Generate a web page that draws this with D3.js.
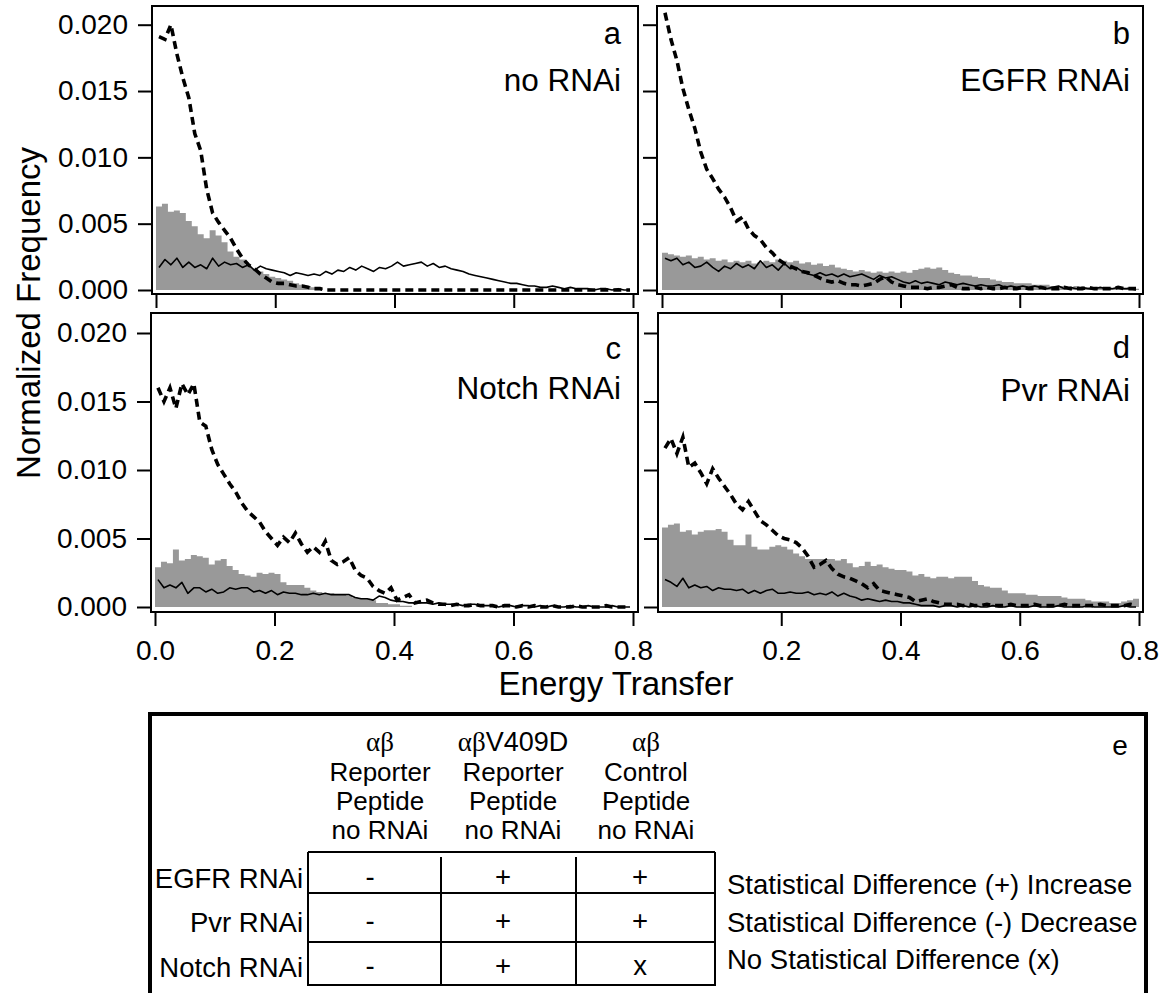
<!DOCTYPE html>
<html>
<head>
<meta charset="utf-8">
<script src="https://cdn.jsdelivr.net/npm/d3@7"></script>
<style>
body { margin: 0; background: #fff; }
svg text { font-family: "Liberation Sans", Arial, sans-serif; fill: #000; }
.greek { font-family: "Liberation Serif", "Times New Roman", serif; }
</style>
</head>
<body>
<div id="chart"></div>
<script>
// energy transfer bins (bin centres, width 0.01)
const energy = [
  0.005,0.015,0.025,0.035,0.045,0.055,0.065,0.075,0.085,0.095,
  0.105,0.115,0.125,0.135,0.145,0.155,0.165,0.175,0.185,0.195,
  0.205,0.215,0.225,0.235,0.245,0.255,0.265,0.275,0.285,0.295,
  0.305,0.315,0.325,0.335,0.345,0.355,0.365,0.375,0.385,0.395,
  0.405,0.415,0.425,0.435,0.445,0.455,0.465,0.475,0.485,0.495,
  0.505,0.515,0.525,0.535,0.545,0.555,0.565,0.575,0.585,0.595,
  0.605,0.615,0.625,0.635,0.645,0.655,0.665,0.675,0.685,0.695,
  0.705,0.715,0.725,0.735,0.745,0.755,0.765,0.775,0.785,0.795];

// a - no RNAi
const grayA = [
  0.0063,0.0065,0.0059,0.0060,0.0058,0.0052,0.0048,0.0042,0.0039,0.0045,
  0.0041,0.0036,0.0029,0.0025,0.0023,0.0018,0.0016,0.0014,0.0012,0.0010,
  0.0009,0.0008,0.0007,0.0005,0.0004,0.0003,0.0002,0.0001,0.0000,0.0000,
  0,0,0,0,0,0,0,0,0,0,
  0,0,0,0,0,0,0,0,0,0,
  0,0,0,0,0,0,0,0,0,0,
  0,0,0,0,0,0,0,0,0,0,
  0,0,0,0,0,0,0,0,0,0];
const solidA = [
  0.0017,0.0023,0.0019,0.0024,0.0017,0.0021,0.0017,0.0019,0.0016,0.0024,
  0.0018,0.0021,0.0019,0.0020,0.0017,0.0019,0.0015,0.0018,0.0016,0.0015,
  0.0014,0.0013,0.0011,0.0013,0.0012,0.0011,0.0012,0.0011,0.0014,0.0012,
  0.0015,0.0014,0.0017,0.0015,0.0018,0.0016,0.0014,0.0017,0.0016,0.0018,
  0.0021,0.0018,0.0019,0.0020,0.0021,0.0018,0.0020,0.0017,0.0018,0.0016,
  0.0015,0.0014,0.0012,0.0011,0.0010,0.0009,0.0008,0.0007,0.0006,0.0005,
  0.0005,0.0004,0.0003,0.0003,0.0002,0.0002,0.0003,0.0002,0.0001,0.0002,
  0.0001,0.0001,0.0001,0.0000,0.0001,0.0001,0.0000,0.0001,0.0000,0.0000];
const dashedA = [
  0.0191,0.0189,0.0200,0.0178,0.0160,0.0145,0.0118,0.0105,0.0076,0.0058,
  0.0051,0.0045,0.0039,0.0031,0.0024,0.0019,0.0016,0.0012,0.0009,0.0006,
  0.0005,0.0005,0.0004,0.0003,0.0003,0.0002,0.0001,0.0001,0.0000,0.0000,
  0,0,0,0,0,0,0,0,0,0,
  0,0,0,0,0,0,0,0,0,0,
  0,0,0,0,0,0,0,0,0,0,
  0,0,0,0,0,0,0,0,0,0,
  0,0,0,0,0,0,0,0,0,0];

// b - EGFR RNAi
const grayB = [
  0.0028,0.0027,0.0026,0.0025,0.0026,0.0024,0.0025,0.0023,0.0024,0.0022,
  0.0023,0.0021,0.0022,0.0021,0.0022,0.0020,0.0021,0.0022,0.0021,0.0023,
  0.0022,0.0021,0.0022,0.0020,0.0021,0.0019,0.0020,0.0018,0.0019,0.0017,
  0.0016,0.0015,0.0014,0.0015,0.0014,0.0013,0.0014,0.0013,0.0014,0.0013,
  0.0014,0.0013,0.0015,0.0016,0.0017,0.0016,0.0017,0.0015,0.0013,0.0012,
  0.0011,0.0011,0.0010,0.0009,0.0009,0.0008,0.0007,0.0006,0.0006,0.0005,
  0.0005,0.0005,0.0004,0.0004,0.0004,0.0003,0.0003,0.0003,0.0002,0.0003,
  0.0002,0.0002,0.0002,0.0002,0.0002,0.0001,0.0002,0.0001,0.0002,0.0001];
const solidB = [
  0.0024,0.0022,0.0024,0.0019,0.0021,0.0017,0.0018,0.0021,0.0017,0.0014,
  0.0018,0.0016,0.0020,0.0017,0.0019,0.0016,0.0022,0.0017,0.0019,0.0015,
  0.0020,0.0016,0.0017,0.0014,0.0012,0.0011,0.0013,0.0011,0.0012,0.0010,
  0.0012,0.0010,0.0011,0.0012,0.0010,0.0008,0.0011,0.0009,0.0010,0.0008,
  0.0006,0.0005,0.0007,0.0005,0.0006,0.0005,0.0004,0.0006,0.0005,0.0004,
  0.0005,0.0004,0.0003,0.0004,0.0003,0.0003,0.0004,0.0002,0.0003,0.0002,
  0.0003,0.0002,0.0003,0.0002,0.0001,0.0002,0.0003,0.0001,0.0002,0.0001,
  0.0002,0.0001,0.0001,0.0002,0.0001,0.0001,0.0002,0.0001,0.0001,0.0000];
const dashedB = [
  0.0209,0.0189,0.0173,0.0152,0.0136,0.0122,0.0104,0.0091,0.0084,0.0076,
  0.0070,0.0062,0.0052,0.0055,0.0046,0.0041,0.0038,0.0032,0.0028,0.0023,
  0.0020,0.0018,0.0016,0.0014,0.0013,0.0011,0.0009,0.0007,0.0006,0.0007,
  0.0005,0.0004,0.0004,0.0003,0.0004,0.0005,0.0008,0.0010,0.0006,0.0004,
  0.0003,0.0002,0.0002,0.0002,0.0001,0.0002,0.0002,0.0003,0.0004,0.0002,
  0.0001,0.0001,0.0002,0.0001,0.0002,0.0001,0.0001,0.0002,0.0001,0.0001,
  0.0002,0.0001,0.0001,0.0002,0.0001,0.0001,0.0001,0.0002,0.0001,0.0001,
  0.0001,0.0002,0.0001,0.0001,0.0001,0.0001,0.0002,0.0001,0.0001,0.0001];

// c - Notch RNAi
const grayC = [
  0.0029,0.0033,0.0032,0.0042,0.0034,0.0035,0.0038,0.0037,0.0036,0.0031,
  0.0034,0.0035,0.0030,0.0027,0.0024,0.0023,0.0022,0.0025,0.0024,0.0025,
  0.0024,0.0018,0.0016,0.0016,0.0016,0.0014,0.0012,0.0011,0.0010,0.0010,
  0.0009,0.0009,0.0008,0.0007,0.0006,0.0006,0.0005,0.0003,0.0003,0.0002,
  0.0002,0.0001,0.0001,0,0,0,0,0,0,0,
  0,0,0,0,0,0,0,0,0,0,
  0,0,0,0,0,0,0,0,0,0,
  0,0,0,0,0,0,0,0,0,0];
const solidC = [
  0.0020,0.0014,0.0016,0.0014,0.0018,0.0010,0.0014,0.0014,0.0011,0.0013,
  0.0010,0.0011,0.0014,0.0013,0.0014,0.0014,0.0011,0.0012,0.0010,0.0012,
  0.0009,0.0011,0.0010,0.0010,0.0009,0.0009,0.0010,0.0009,0.0010,0.0009,
  0.0009,0.0009,0.0009,0.0007,0.0006,0.0006,0.0005,0.0008,0.0007,0.0005,
  0.0004,0.0004,0.0003,0.0003,0.0003,0.0003,0.0002,0.0003,0.0002,0.0002,
  0.0002,0.0001,0.0002,0.0002,0.0001,0.0001,0.0001,0.0000,0.0001,0.0001,
  0.0000,0.0001,0.0001,0.0000,0.0001,0.0000,0.0001,0.0000,0.0000,0.0001,
  0.0000,0.0000,0.0001,0.0000,0.0000,0.0000,0.0001,0.0000,0.0000,0.0000];
const dashedC = [
  0.0160,0.0150,0.0160,0.0145,0.0163,0.0155,0.0163,0.0135,0.0132,0.0115,
  0.0104,0.0097,0.0090,0.0084,0.0076,0.0070,0.0066,0.0062,0.0055,0.0050,
  0.0045,0.0051,0.0047,0.0054,0.0046,0.0040,0.0044,0.0040,0.0048,0.0034,
  0.0031,0.0033,0.0036,0.0027,0.0023,0.0021,0.0015,0.0012,0.0010,0.0014,
  0.0005,0.0007,0.0009,0.0003,0.0004,0.0005,0.0003,0.0002,0.0002,0.0001,
  0.0002,0.0001,0.0001,0.0002,0.0001,0.0001,0.0001,0.0000,0.0001,0.0001,
  0.0000,0.0001,0.0000,0.0001,0.0000,0.0000,0.0001,0.0000,0.0000,0.0000,
  0.0001,0.0000,0.0000,0.0000,0.0000,0.0001,0.0000,0.0000,0.0000,0.0000];

// d - Pvr RNAi
const grayD = [
  0.0058,0.0060,0.0061,0.0055,0.0056,0.0053,0.0055,0.0056,0.0056,0.0057,
  0.0055,0.0049,0.0045,0.0045,0.0053,0.0044,0.0042,0.0042,0.0044,0.0045,
  0.0044,0.0042,0.0039,0.0037,0.0035,0.0035,0.0035,0.0035,0.0035,0.0034,
  0.0035,0.0032,0.0029,0.0030,0.0033,0.0030,0.0031,0.0029,0.0028,0.0027,
  0.0027,0.0026,0.0023,0.0024,0.0022,0.0021,0.0022,0.0022,0.0021,0.0022,
  0.0022,0.0022,0.0019,0.0016,0.0015,0.0014,0.0014,0.0012,0.0010,0.0010,
  0.0010,0.0009,0.0009,0.0008,0.0008,0.0008,0.0008,0.0007,0.0006,0.0006,
  0.0006,0.0005,0.0004,0.0004,0.0004,0.0003,0.0003,0.0004,0.0005,0.0006];
const solidD = [
  0.0020,0.0018,0.0015,0.0021,0.0014,0.0016,0.0014,0.0015,0.0012,0.0014,
  0.0013,0.0013,0.0012,0.0013,0.0010,0.0012,0.0010,0.0012,0.0013,0.0010,
  0.0010,0.0011,0.0010,0.0010,0.0011,0.0009,0.0010,0.0009,0.0011,0.0008,
  0.0010,0.0008,0.0007,0.0005,0.0006,0.0005,0.0004,0.0005,0.0004,0.0004,
  0.0003,0.0003,0.0002,0.0001,0.0001,0.0001,0.0000,0.0001,0.0001,0.0000,
  0.0001,0.0000,0.0001,0.0000,0.0000,0.0001,0.0000,0.0000,0.0001,0.0000,
  0.0000,0.0000,0.0001,0.0000,0.0000,0.0000,0.0001,0.0000,0.0000,0.0000,
  0.0000,0.0001,0.0000,0.0000,0.0000,0.0000,0.0000,0.0001,0.0000,0.0000];
const dashedD = [
  0.0116,0.0123,0.0112,0.0124,0.0102,0.0105,0.0098,0.0090,0.0101,0.0094,
  0.0088,0.0082,0.0075,0.0071,0.0077,0.0070,0.0063,0.0060,0.0056,0.0052,
  0.0050,0.0049,0.0047,0.0043,0.0037,0.0029,0.0031,0.0034,0.0028,0.0024,
  0.0022,0.0021,0.0019,0.0017,0.0014,0.0017,0.0012,0.0011,0.0010,0.0009,
  0.0008,0.0007,0.0004,0.0005,0.0006,0.0004,0.0003,0.0002,0.0002,0.0002,
  0.0001,0.0002,0.0001,0.0001,0.0002,0.0001,0.0001,0.0001,0.0002,0.0001,
  0.0001,0.0001,0.0002,0.0001,0.0001,0.0001,0.0001,0.0002,0.0001,0.0001,
  0.0001,0.0001,0.0001,0.0002,0.0001,0.0001,0.0001,0.0001,0.0002,0.0001];

const yTickValues = [0, 0.005, 0.010, 0.015, 0.020];
const xTickValues = [0, 0.2, 0.4, 0.6, 0.8];

// table (panel e)
const colGreek = ["αβ", "αβ", "αβ"];
const colSuffix = ["", "V409D", ""];
const colLines = [["Reporter", "Peptide", "no RNAi"], ["Reporter", "Peptide", "no RNAi"], ["Control", "Peptide", "no RNAi"]];
const rowLabels = ["EGFR RNAi", "Pvr RNAi", "Notch RNAi"];
const cellMarks = [["-", "+", "+"], ["-", "+", "+"], ["-", "+", "x"]];
const legendLines = ["Statistical Difference (+) Increase", "Statistical Difference (-) Decrease", "No Statistical Difference (x)"];

const FONT = 28;

const svg = d3.select("#chart").append("svg")
    .attr("width", 1166)
    .attr("height", 993);

// panel layout (pixel frames)
const panels = [
    { tag: "a", name: "no RNAi", gray: grayA, solid: solidA, dashed: dashedA,
      left: 152, right: 638, top: 6, bottom: 294, x0: 156, x1: 633, y0: 290, y20: 24.7,
      yLabels: true, xLabels: false, xTicks: xTickValues, tagY: 33, nameY: 80, labelRight: 621 },
    { tag: "b", name: "EGFR RNAi", gray: grayB, solid: solidB, dashed: dashedB,
      left: 657, right: 1143, top: 6, bottom: 294, x0: 662, x1: 1139, y0: 290, y20: 24.7,
      yLabels: false, xLabels: false, xTicks: xTickValues, tagY: 33, nameY: 80, labelRight: 1130 },
    { tag: "c", name: "Notch RNAi", gray: grayC, solid: solidC, dashed: dashedC,
      left: 151, right: 638, top: 313, bottom: 612, x0: 155, x1: 633, y0: 607, y20: 333,
      yLabels: true, xLabels: true, xTicks: xTickValues, tagY: 348, nameY: 388, labelRight: 621 },
    { tag: "d", name: "Pvr RNAi", gray: grayD, solid: solidD, dashed: dashedD,
      left: 658, right: 1143, top: 313, bottom: 612, x0: 662, x1: 1139, y0: 607, y20: 333,
      yLabels: false, xLabels: true, xTicks: xTickValues.slice(1), tagY: 347, nameY: 390, labelRight: 1130 }
];

panels.forEach(drawPanel);

function drawPanel(p) {
    let g = svg.append("g").attr("class", "panel-" + p.tag);

    let x = d3.scaleLinear().domain([0, 0.8]).range([p.x0, p.x1]);
    let y = d3.scaleLinear().domain([0, 0.02]).range([p.y0, p.y20]);

    // histogram as a step area
    let steps = [];
    energy.forEach((e, i) => {
        steps.push([e - 0.005, p.gray[i]]);
        steps.push([e + 0.005, p.gray[i]]);
    });
    g.append("path")
        .datum(steps)
        .attr("fill", "#999999")
        .attr("d", d3.area().x(d => x(d[0])).y0(y(0)).y1(d => y(d[1])));

    let line = d3.line()
        .x((d, i) => x(energy[i]))
        .y(d => y(d));

    g.append("path")
        .datum(p.solid)
        .attr("fill", "none")
        .attr("stroke", "#000")
        .attr("stroke-width", 1.6)
        .attr("stroke-linejoin", "round")
        .attr("d", line);

    g.append("path")
        .datum(p.dashed)
        .attr("fill", "none")
        .attr("stroke", "#000")
        .attr("stroke-width", 3.6)
        .attr("stroke-dasharray", "8,5")
        .attr("d", line);

    // frame
    g.append("rect")
        .attr("x", p.left)
        .attr("y", p.top)
        .attr("width", p.right - p.left)
        .attr("height", p.bottom - p.top)
        .attr("fill", "none")
        .attr("stroke", "#000")
        .attr("stroke-width", 2);

    // axes
    let yAxis = d3.axisLeft(y)
        .tickValues(yTickValues)
        .tickSize(14)
        .tickSizeOuter(0)
        .tickPadding(10)
        .tickFormat(p.yLabels ? d3.format(".3f") : "");
    let ya = g.append("g")
        .attr("transform", `translate(${p.left},0)`)
        .call(yAxis);

    let xAxis = d3.axisBottom(x)
        .tickValues(p.xTicks)
        .tickSize(14)
        .tickSizeOuter(0)
        .tickPadding(14)
        .tickFormat(p.xLabels ? d3.format(".1f") : "");
    let xa = g.append("g")
        .attr("transform", `translate(0,${p.bottom})`)
        .call(xAxis);

    [ya, xa].forEach(a => {
        a.select(".domain").remove();
        a.attr("font-family", null).attr("font-size", null);
        a.selectAll("line").attr("stroke-width", 2);
        a.selectAll("text").style("font-size", FONT + "px");
    });

    // panel letter and condition
    g.append("text")
        .attr("x", p.labelRight)
        .attr("y", p.tagY)
        .attr("text-anchor", "end")
        .attr("dominant-baseline", "central")
        .style("font-size", "31px")
        .text(p.tag);
    g.append("text")
        .attr("x", p.labelRight)
        .attr("y", p.nameY)
        .attr("text-anchor", "end")
        .attr("dominant-baseline", "central")
        .style("font-size", "31.5px")
        .text(p.name);
}

// axis titles
svg.append("text")
    .attr("transform", "translate(28,313) rotate(-90)")
    .attr("text-anchor", "middle")
    .attr("dominant-baseline", "central")
    .style("font-size", "33px")
    .text("Normalized Frequency");

svg.append("text")
    .attr("x", 616)
    .attr("y", 683)
    .attr("text-anchor", "middle")
    .attr("dominant-baseline", "central")
    .style("font-size", "33px")
    .text("Energy Transfer");

// panel e: summary table
let t = svg.append("g").attr("class", "table");

t.append("rect")
    .attr("x", 150)
    .attr("y", 714)
    .attr("width", 996)
    .attr("height", 320)
    .attr("fill", "none")
    .attr("stroke", "#000")
    .attr("stroke-width", 4);

t.append("text")
    .attr("x", 1120)
    .attr("y", 745)
    .attr("text-anchor", "middle")
    .attr("dominant-baseline", "central")
    .style("font-size", FONT + "px")
    .text("e");

let colX = d3.scalePoint().domain(d3.range(colGreek.length)).range([380, 646]);
let colEdges = [308, 441, 576, 715];
let rowY = d3.scalePoint().domain(d3.range(rowLabels.length)).range([878, 967]);
let rowEdges = [852, 893, 942, 985];
let headLineY = [772, 801, 830];

colGreek.forEach((gk, i) => {
    let head = t.append("text")
        .attr("x", colX(i))
        .attr("y", 742)
        .attr("text-anchor", "middle")
        .attr("dominant-baseline", "central")
        .style("font-size", "27px");
    head.append("tspan").attr("class", "greek").text(gk);
    if (colSuffix[i]) head.append("tspan").text(colSuffix[i]);

    colLines[i].forEach((s, j) => {
        t.append("text")
            .attr("x", colX(i))
            .attr("y", headLineY[j])
            .attr("text-anchor", "middle")
            .attr("dominant-baseline", "central")
            .style("font-size", "26px")
            .text(s);
    });
});

// grid lines
rowEdges.forEach(yy => {
    t.append("line")
        .attr("x1", colEdges[0]).attr("x2", colEdges[colEdges.length - 1])
        .attr("y1", yy).attr("y2", yy)
        .attr("stroke", "#000").attr("stroke-width", 2);
});
colEdges.forEach((xx, i) => {
    t.append("line")
        .attr("x1", xx).attr("x2", xx)
        .attr("y1", (i === 0 || i === colEdges.length - 1) ? rowEdges[0] : rowEdges[0] + 5)
        .attr("y2", rowEdges[rowEdges.length - 1] + 1)
        .attr("stroke", "#000").attr("stroke-width", 2);
});

rowLabels.forEach((r, i) => {
    t.append("text")
        .attr("x", 303)
        .attr("y", rowY(i))
        .attr("text-anchor", "end")
        .attr("dominant-baseline", "central")
        .style("font-size", "27.5px")
        .text(r);
    cellMarks[i].forEach((m, j) => {
        t.append("text")
            .attr("x", [370, 503, 640][j])
            .attr("y", rowY(i) - 2)
            .attr("text-anchor", "middle")
            .attr("dominant-baseline", "central")
            .style("font-size", "27.5px")
            .text(m);
    });
});

legendLines.forEach((s, i) => {
    t.append("text")
        .attr("x", 727)
        .attr("y", [884, 922, 959][i])
        .attr("dominant-baseline", "central")
        .style("font-size", "27.5px")
        .text(s);
});
</script>
</body>
</html>
